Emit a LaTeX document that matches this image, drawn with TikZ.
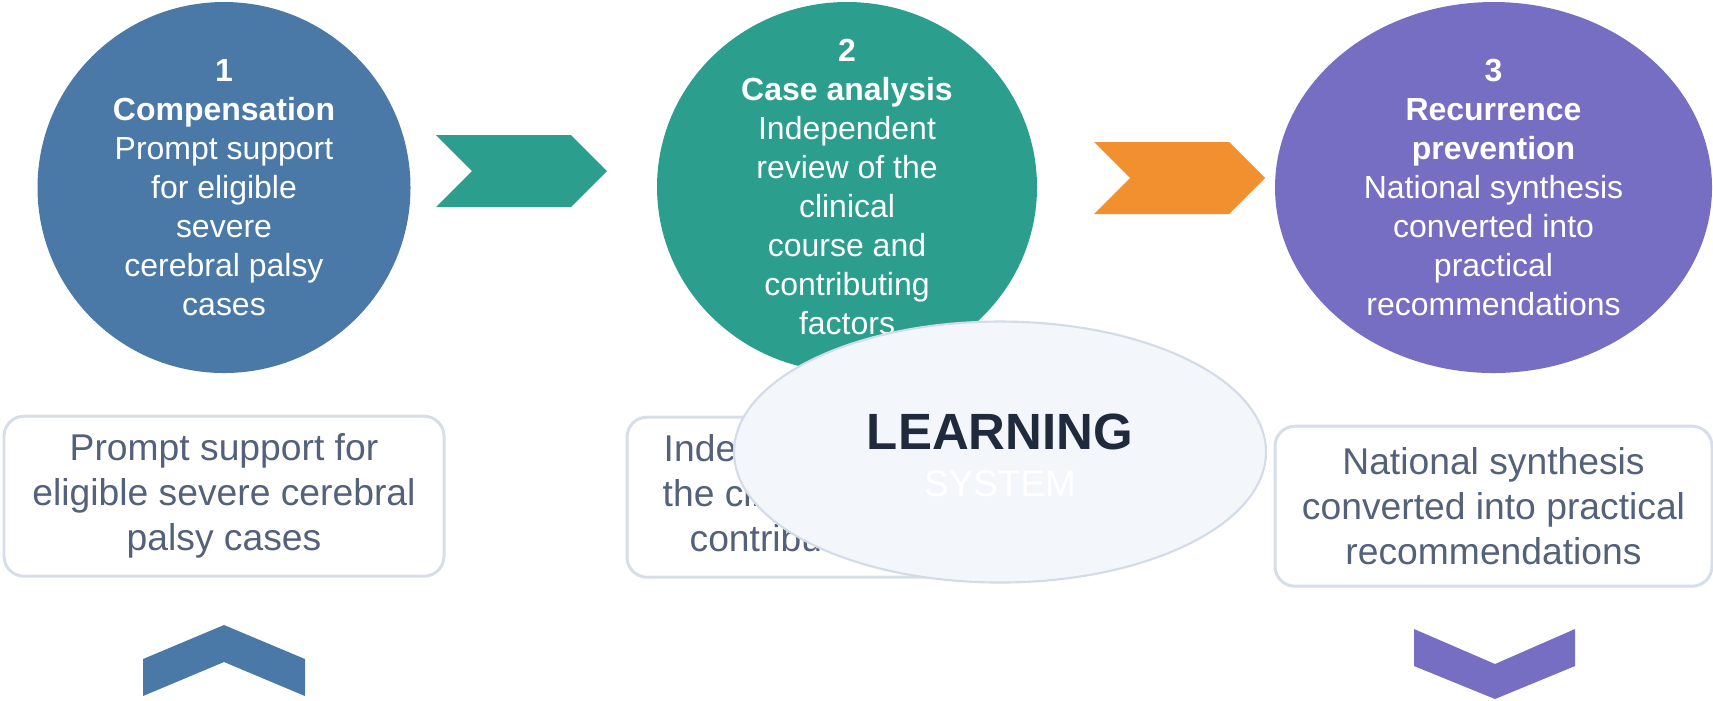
\documentclass[tikz,border=0pt]{standalone}
\usepackage{fontspec}
\setmainfont{Liberation Sans}
\usepackage{xcolor}
\usepackage{tikz}
\usetikzlibrary{positioning,shapes.geometric}

\definecolor{cBlue}{HTML}{4A79A8}
\definecolor{cTeal}{HTML}{2B9E8E}
\definecolor{cPurple}{HTML}{766EC2}
\definecolor{cOrange}{HTML}{F28F2E}
\definecolor{noteLine}{HTML}{D6DEE9}
\definecolor{noteText}{HTML}{54617A}
\definecolor{hubFill}{HTML}{F3F7FC}
\definecolor{hubLine}{HTML}{D3DBE7}
\definecolor{hubText}{HTML}{1F2A3C}

\begin{document}
\begin{tikzpicture}[node distance=0.42cm]
\tikzstyle{stage}=[ellipse,inner sep=0pt]
\tikzstyle{stagetext}=[inner sep=0pt,align=center,text=white,font=\fontsize{9.1}{11.1}\selectfont]
\tikzstyle{note}=[rounded corners=0.2cm,draw=noteLine,line width=0.85pt,fill=white,align=center,minimum width=4.4cm,minimum height=1.6cm,text=noteText,font=\fontsize{10.6}{12.8}\selectfont]
\tikzstyle{hub}=[ellipse,draw=hubLine,line width=0.6pt,fill=hubFill,minimum width=5.32cm,minimum height=2.61cm]
\useasboundingbox (0,0) rectangle (17.13,-7);

% the three stages
\node[stage,fill=cBlue,minimum width=3.73cm,minimum height=3.71cm] (comp) at (2.24,-1.875) {};
\node[stage,fill=cTeal,minimum width=3.80cm,minimum height=3.70cm] (analysis) at (8.47,-1.87) {};
\node[stage,fill=cPurple,minimum width=4.37cm,minimum height=3.71cm] (prev) at (14.935,-1.875) {};
\node[stagetext] (comp-t) at (comp.center) {\textbf{1}\\\textbf{Compensation}\\Prompt support\\for eligible\\severe\\cerebral palsy\\cases};
\node[stagetext] (analysis-t) at (analysis.center) {\textbf{2}\\\textbf{Case analysis}\\Independent\\review of the\\clinical\\course and\\contributing\\factors};
\node[stagetext] (prev-t) at (prev.center) {\textbf{3}\\\textbf{Recurrence}\\\textbf{prevention}\\National synthesis\\converted into\\practical\\recommendations};

% chevrons
\foreach \x/\y/\c in {4.36/-1.35/cTeal,10.94/-1.42/cOrange}
  \fill[\c] (\x,\y) -- ++(1.35,0) -- ++(0.36,-0.36) -- ++(-0.36,-0.36) -- ++(-1.35,0) -- ++(0.36,0.36) -- cycle;
\fill[cBlue] (1.43,-6.59) -- (2.24,-6.25) -- (3.05,-6.59) -- (3.05,-6.96) -- (2.24,-6.62) -- (1.43,-6.96) -- cycle;
\fill[cPurple] (14.14,-6.29) -- (14.95,-6.64) -- (15.75,-6.29) -- (15.75,-6.66) -- (14.95,-6.99) -- (14.14,-6.66) -- cycle;

% summaries
\node[note,below=0.41cm of comp] (compbox) {Prompt support for\\eligible severe cerebral\\palsy cases};
\node[note,below=0.43cm of analysis] (analysisbox) {Independent review of\\the clinical course and\\contributing factors};
\node[note,minimum width=4.37cm,below=0.51cm of prev] (prevbox) {National synthesis\\converted into practical\\recommendations};

% centre
\node[hub] (learn) at (10.0,-4.52) {};
\node[text=hubText,font=\fontsize{14.5}{17}\selectfont\bfseries] (learn-t) at ([yshift=0.20cm]learn.center) {LEARNING};
\node[text=white,font=\fontsize{10.5}{12}\selectfont] (learn-s) at ([yshift=-0.32cm]learn.center) {SYSTEM};
\end{tikzpicture}
\end{document}
